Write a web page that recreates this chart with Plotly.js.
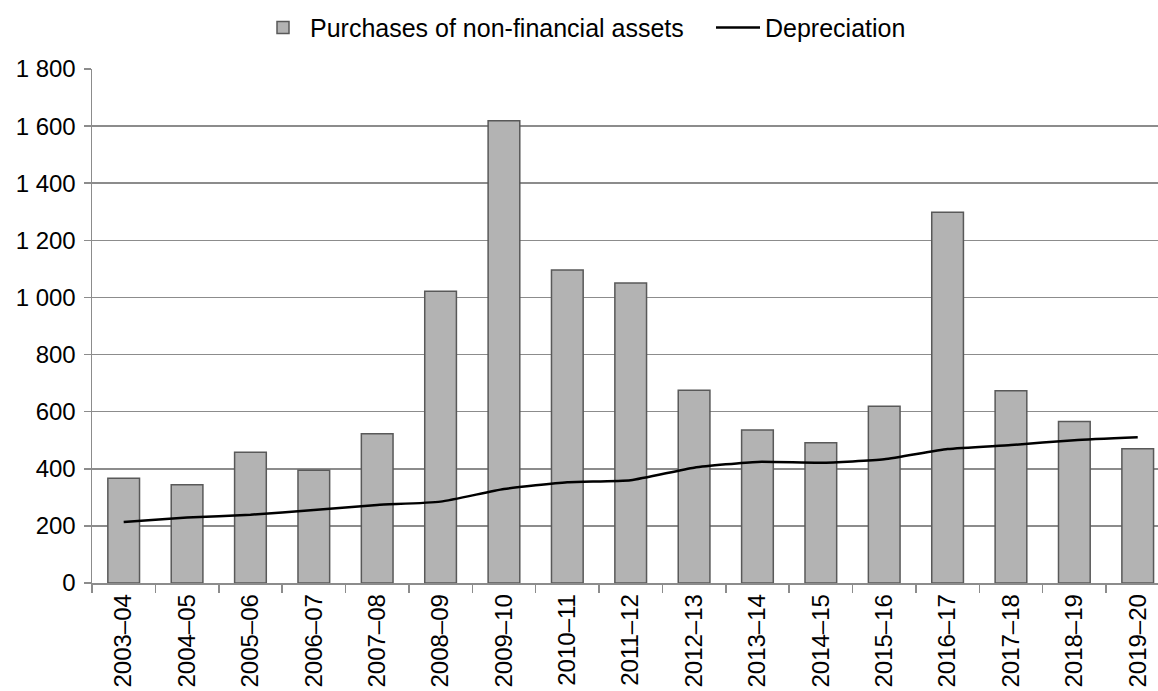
<!DOCTYPE html>
<html>
<head>
<meta charset="utf-8">
<script src="https://cdn.plot.ly/plotly-3.0.1.min.js"></script>
<style>html,body{margin:0;padding:0;background:#fff;}#chart{width:1158px;height:691px;}</style>
</head>
<body>
<div id="chart"></div>
<script>
const categories = ["2003–04","2004–05","2005–06","2006–07","2007–08","2008–09","2009–10","2010–11","2011–12","2012–13","2013–14","2014–15","2015–16","2016–17","2017–18","2018–19","2019–20"];
const purchases = [367, 344, 458, 395, 523, 1022, 1619, 1096, 1051, 675, 536, 491, 619, 1298, 673, 566, 470];
const depreciation = [214, 229, 239, 256, 273, 285, 329, 353, 360, 404, 424, 421, 433, 469, 483, 500, 510];
const yTicks = [0, 200, 400, 600, 800, 1000, 1200, 1400, 1600, 1800];

const gridColor = '#8c8c8c';
const traces = [
  {
    type: 'bar', name: 'Purchases of non-financial assets',
    x: categories, y: purchases,
    marker: {color: '#b3b3b3', line: {color: '#595959', width: 1.5}},
    hoverinfo: 'x+y'
  },
  {
    type: 'scatter', mode: 'lines', name: 'Depreciation',
    x: categories, y: depreciation,
    line: {color: '#000000', width: 2.5, shape: 'spline', smoothing: 0.5}
  }
];

const layout = {
  width: 1158, height: 691,
  paper_bgcolor: '#ffffff', plot_bgcolor: '#ffffff',
  font: {family: '"Liberation Sans", Arial, sans-serif', size: 24, color: '#000000'},
  separators: '. ',
  margin: {l: 92, r: 0, t: 69, b: 108, pad: 0},
  bargap: 0.5,
  showlegend: true,
  legend: {
    orientation: 'h', x: 256 / 1158, xanchor: 'left', xref: 'container',
    y: 0.993, yanchor: 'top', yref: 'container', traceorder: 'normal',
    font: {size: 25}, itemwidth: 44, entrywidth: 396
  },
  xaxis: {
    type: 'category',
    range: [-0.5, 16.32],
    tickangle: -90,
    ticks: 'outside', tickson: 'boundaries', ticklen: 8, tickwidth: 1.5, tickcolor: gridColor,
    showline: true, linecolor: gridColor, linewidth: 1.5,
    showgrid: false, zeroline: false,
    tickfont: {size: 24}
  },
  yaxis: {
    range: [0, 1800],
    tickvals: yTicks,
    tickformat: ',d',
    ticks: 'outside', ticklen: 7, tickwidth: 1.5, tickcolor: gridColor,
    ticklabelstandoff: 3,
    showline: true, linecolor: gridColor, linewidth: 1.5,
    showgrid: true, gridcolor: gridColor, gridwidth: 1.5,
    zeroline: false,
    tickfont: {size: 24}
  }
};

Plotly.newPlot('chart', traces, layout, {displayModeBar: false, staticPlot: true});
</script>
</body>
</html>
